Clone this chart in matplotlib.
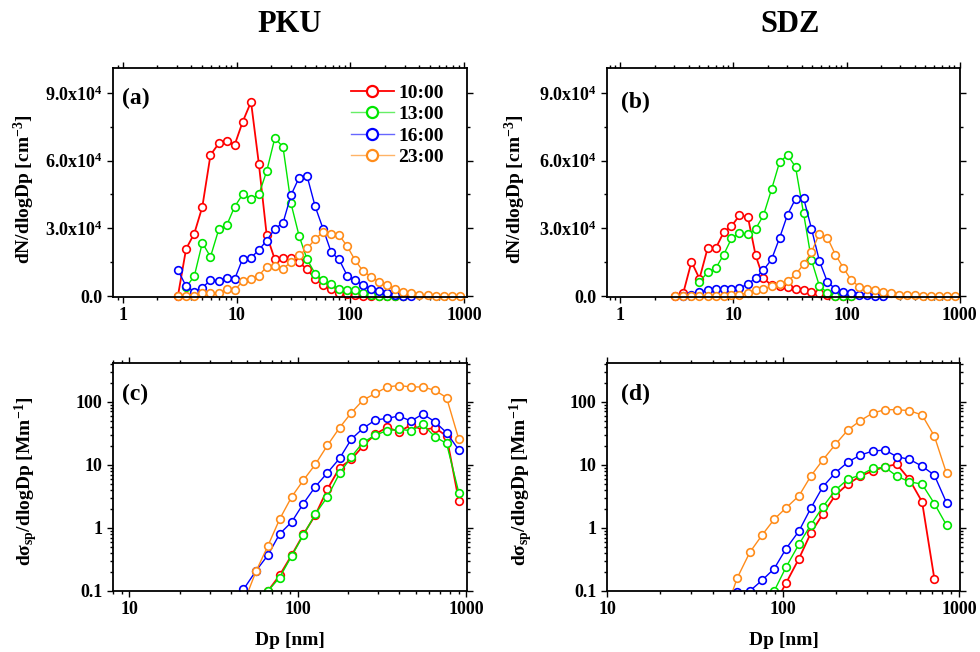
import numpy as np
import matplotlib
matplotlib.use("Agg")
import matplotlib.pyplot as plt
from matplotlib.lines import Line2D
from matplotlib.ticker import FixedLocator, FixedFormatter, MultipleLocator, LogLocator, NullFormatter

plt.rcParams['font.family'] = ['Liberation Serif', 'DejaVu Serif']
plt.rcParams['font.weight'] = 'bold'
plt.rcParams['mathtext.fontset'] = 'custom'
plt.rcParams['mathtext.rm'] = 'Liberation Serif:bold'
plt.rcParams['mathtext.it'] = 'Liberation Serif:italic:bold'
plt.rcParams['mathtext.bf'] = 'Liberation Serif:bold'
plt.rcParams['mathtext.default'] = 'rm'

nan = np.nan

# ---- number size distributions (units of 1e4 cm-3) ----
dp_num = [3.05, 3.6, 4.25, 5.0, 5.9, 7.0, 8.2, 9.6, 11.3, 13.4, 15.7, 18.4,
          21.7, 25.6, 30.1, 35.4, 41.7, 49.0, 57.6, 67.8, 79.7, 93.8, 110, 130,
          153, 180, 211, 249, 293, 344, 405, 477, 561, 660, 777, 914]

pku_10 = [0, 2.09, 2.77, 3.95, 6.25, 6.77, 6.86, 6.68, 7.71, 8.6, 5.86, 2.7,
          1.62, 1.68, 1.67, 1.5, 1.18, 0.77, 0.5, 0.3, 0.15, 0.08, 0.04, 0.02,
          0.01, 0, 0, 0, 0, nan, nan, nan, nan, nan, nan, nan]
pku_13 = [nan, 0.4, 0.88, 2.36, 1.74, 2.98, 3.14, 3.95, 4.5, 4.3, 4.5, 5.53,
          7.0, 6.6, 4.1, 2.68, 1.62, 1.0, 0.71, 0.52, 0.32, 0.29, 0.26, 0.15,
          0.07, 0.02, 0, 0, 0, nan, nan, nan, nan, nan, nan, nan]
pku_16 = [1.15, 0.44, 0.2, 0.37, 0.71, 0.69, 0.81, 0.74, 1.65, 1.7, 2.04, 2.46,
          2.98, 3.24, 4.47, 5.24, 5.31, 3.98, 2.98, 1.95, 1.62, 0.91, 0.71, 0.47,
          0.32, 0.22, 0.15, 0.07, 0, 0, nan, nan, nan, nan, nan, nan]
pku_23 = [0, 0, 0, 0.15, 0.12, 0.15, 0.3, 0.25, 0.66, 0.74, 0.91, 1.3,
          1.33, 1.22, 1.5, 1.8, 2.11, 2.51, 2.85, 2.76, 2.7, 2.21, 1.59, 1.09,
          0.86, 0.62, 0.47, 0.32, 0.18, 0.12, 0.07, 0.03, 0, 0, 0, 0.02]

sdz_10 = [0, 0.15, 1.52, 0.77, 2.12, 2.14, 2.83, 3.1, 3.57, 3.51, 1.8, 0.78,
          0.49, 0.44, 0.4, 0.32, 0.27, 0.18, 0.12, 0.05, 0.02, 0, 0, nan,
          nan, nan, nan, nan, nan, nan, nan, nan, nan, nan, nan, nan]
sdz_13 = [nan, nan, nan, 0.62, 1.06, 1.25, 1.84, 2.55, 2.8, 2.73, 2.98, 3.57,
          4.72, 5.94, 6.24, 5.72, 3.66, 1.59, 0.44, 0.15, 0, 0, 0, nan,
          nan, nan, nan, nan, nan, nan, nan, nan, nan, nan, nan, nan]
sdz_16 = [nan, 0, 0.03, 0.19, 0.25, 0.32, 0.32, 0.3, 0.37, 0.52, 0.81, 1.15,
          1.62, 2.58, 3.61, 4.31, 4.35, 2.98, 1.55, 0.62, 0.32, 0.19, 0.15, 0.07,
          0.03, 0, 0, nan, nan, nan, nan, nan, nan, nan, nan, nan]
sdz_23 = [0, 0, 0, 0, 0, 0, 0, 0.03, 0.06, 0.15, 0.25, 0.32,
          0.44, 0.52, 0.66, 0.96, 1.4, 1.95, 2.77, 2.58, 1.84, 1.25, 0.71, 0.41,
          0.32, 0.25, 0.18, 0.15, 0.07, 0.03, 0.03, 0, 0, 0, 0, 0]

# ---- scattering distributions (Mm-1) ----
dp_pku_sca = [40.5, 47.6, 56.6, 66.5, 78, 92, 108, 127, 150, 177, 208, 244,
              289, 339, 398, 471, 552, 651, 764, 904]
pku_sca_10 = [nan, nan, 0.05, 0.1, 0.177, 0.37, 0.79, 1.59, 4.11, 8.95, 12.2, 19.8,
              30.7, 39.2, 33.4, 42.7, 35.5, 38.6, 28.5, 2.65]
pku_sca_13 = [nan, nan, 0.05, 0.1, 0.163, 0.36, 0.77, 1.65, 3.1, 7.3, 13.4, 22.6,
              29.6, 34.7, 36.4, 34.7, 43.6, 27.8, 21.8, 3.6]
pku_sca_16 = [0.05, 0.106, 0.21, 0.37, 0.80, 1.24, 2.43, 4.48, 7.47, 12.6, 25.5, 37.8,
              51.2, 54.4, 59.2, 49.3, 63.7, 48.2, 32.2, 17.1]
pku_sca_23 = [nan, 0.063, 0.207, 0.52, 1.37, 3.1, 5.7, 10.1, 20.3, 38.6, 66.8, 106,
              135, 171, 180, 171, 171, 151, 116, 25.2]

dp_sdz_sca = [47, 55, 64.7, 76, 89, 104, 123, 144, 168, 198, 233, 274,
              323, 379, 442, 521, 615, 722, 847]
sdz_sca_10 = [nan, nan, nan, nan, 0.06, 0.134, 0.326, 0.84, 1.65, 3.3, 4.93, 6.6,
              8.0, 9.3, 10.2, 5.85, 2.59, 0.157, nan]
sdz_sca_13 = [nan, nan, nan, 0.06, 0.1, 0.24, 0.55, 1.13, 2.15, 3.96, 5.9, 6.85,
              8.75, 9.1, 6.6, 5.37, 4.93, 2.43, 1.1]
sdz_sca_16 = [0.07, 0.097, 0.1, 0.148, 0.226, 0.47, 0.89, 2.08, 4.47, 7.47, 11, 14.2,
              16.5, 17.1, 13.4, 12.2, 9.5, 6.85, 2.5]
sdz_sca_23 = [0.047, 0.163, 0.41, 0.77, 1.37, 2.08, 3.22, 6.69, 11.9, 21, 35.5, 49.9,
              66, 74.6, 74.6, 72, 61.4, 28.5, 7.3]

times = ['10:00', '13:00', '16:00', '23:00']
colors = ['#ff0000', '#00e600', '#0000ff', '#ff8c1a']
legend_line_colors = ['#ff0000', '#66ee66', '#6666ff', '#ffb366']
lws = [1.3, 1.0, 1.0, 1.0]

fig = plt.figure(figsize=(9.8, 6.52), dpi=100)
ax_a = fig.add_axes([0.1153, 0.5445, 0.3612, 0.3512])
ax_b = fig.add_axes([0.6194, 0.5445, 0.3602, 0.3512])
ax_c = fig.add_axes([0.1153, 0.0936, 0.3612, 0.3497])
ax_d = fig.add_axes([0.6194, 0.0936, 0.3602, 0.3497])


def draw(ax, x, series, clip):
    for ys, c, lw in zip(series, colors, lws):
        ax.plot(x, ys, '-o', color=c, lw=lw, ms=5.5, mew=1.2,
                mfc='white', mec=c, clip_on=clip)


def style(ax):
    ax.tick_params(which='both', direction='out', top=True, right=True,
                   labelsize=13, width=1.0)
    ax.tick_params(which='major', length=4)
    ax.tick_params(which='minor', length=2)
    for s in ax.spines.values():
        s.set_linewidth(1.3)
    for lab in ax.get_xticklabels() + ax.get_yticklabels():
        lab.set_fontweight('bold')


num_ticks = [0, 3e4, 6e4, 9e4]
num_labels = ['0.0', r'3.0x10$^4$', r'6.0x10$^4$', r'9.0x10$^4$']

for ax, data in [(ax_a, [pku_10, pku_13, pku_16, pku_23]),
                 (ax_b, [sdz_10, sdz_13, sdz_16, sdz_23])]:
    draw(ax, dp_num, [np.array(d) * 1e4 for d in data], False)
    ax.set_xscale('log')
    ax.set_xlim(0.82, 1060)
    ax.set_ylim(-400, 1.01e5)
    ax.set_xticks([1, 10, 100, 1000])
    ax.set_xticklabels(['1', '10', '100', '1000'])
    ax.xaxis.set_minor_locator(LogLocator(base=10, subs=np.arange(2, 10)))
    ax.xaxis.set_minor_formatter(NullFormatter())
    ax.yaxis.set_major_locator(FixedLocator(num_ticks))
    ax.yaxis.set_major_formatter(FixedFormatter(num_labels))
    ax.yaxis.set_minor_locator(MultipleLocator(1.5e4))
    ax.set_ylabel(r'dN/dlogDp [cm$^{-3}$]', fontsize=14, fontweight='bold')
    style(ax)

ax_a.yaxis.set_label_coords(-0.215, 0.47)
ax_b.yaxis.set_label_coords(-0.224, 0.47)
ax_b.set_xlim(0.76, 1010)

for ax, x, data, xmin in [(ax_c, dp_pku_sca, [pku_sca_10, pku_sca_13, pku_sca_16, pku_sca_23], 8),
                          (ax_d, dp_sdz_sca, [sdz_sca_10, sdz_sca_13, sdz_sca_16, sdz_sca_23], 10)]:
    draw(ax, x, data, True)
    ax.set_xscale('log')
    ax.set_yscale('log')
    ax.set_xlim(xmin, 1010)
    ax.set_ylim(0.1, 410)
    ax.set_xticks([10, 100, 1000])
    ax.set_xticklabels(['10', '100', '1000'])
    ax.set_yticks([0.1, 1, 10, 100])
    ax.set_yticklabels(['0.1', '1', '10', '100'])
    for axis in (ax.xaxis, ax.yaxis):
        axis.set_minor_locator(LogLocator(base=10, subs=np.arange(2, 10)))
        axis.set_minor_formatter(NullFormatter())
    ax.set_ylabel(r'd$\sigma_{\rm sp}$/dlogDp [Mm$^{-1}$]', fontsize=14, fontweight='bold')
    ax.set_xlabel('Dp [nm]', fontsize=14, fontweight='bold')
    ax.xaxis.set_label_coords(0.5, -0.18)
    style(ax)

ax_c.yaxis.set_label_coords(-0.205, 0.48)
ax_d.yaxis.set_label_coords(-0.205, 0.48)

for ax, lab, x, y in [(ax_a, '(a)', 0.025, 0.865), (ax_b, '(b)', 0.04, 0.85),
                      (ax_c, '(c)', 0.025, 0.86), (ax_d, '(d)', 0.04, 0.86)]:
    ax.text(x, y, lab, transform=ax.transAxes, fontsize=17, fontweight='bold',
            ha='left', va='center')

handles = [Line2D([], [], color=lc, lw=lw, marker='o', ms=8, mew=1.6,
                  mfc='white', mec=c)
           for c, lc, lw in zip(colors, legend_line_colors, lws)]
ax_a.legend(handles, times, loc='upper left', bbox_to_anchor=(0.672, 0.93),
            frameon=False, handlelength=2.2, handletextpad=0.25,
            labelspacing=0.2, borderpad=0, borderaxespad=0,
            prop={'weight': 'bold', 'size': 14})

fig.text(290 / 980, 1 - 25 / 652, 'PKU', ha='center', va='center',
         fontsize=22, fontweight='bold')
fig.text(790 / 980, 1 - 25 / 652, 'SDZ', ha='center', va='center',
         fontsize=22, fontweight='bold')

plt.savefig('out.png', dpi=100)
